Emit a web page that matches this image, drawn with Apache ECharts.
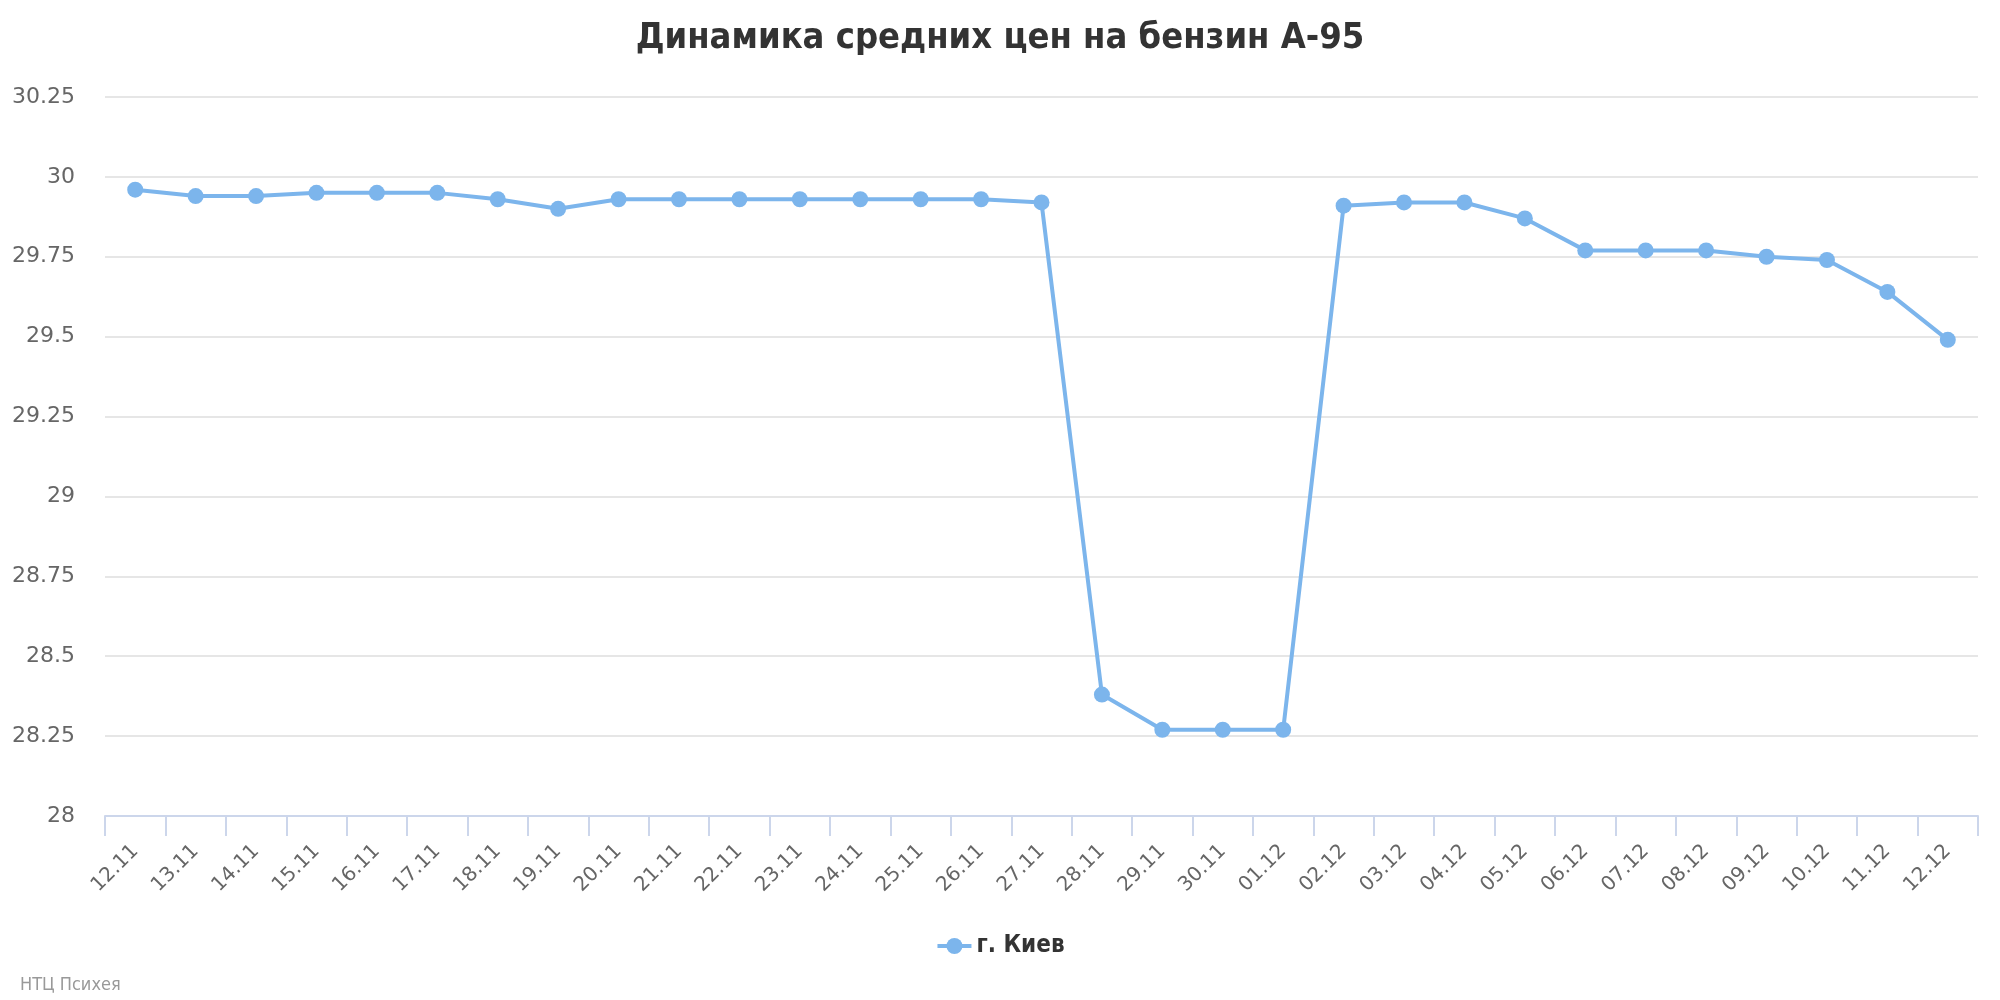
<!DOCTYPE html>
<html>
<head>
<meta charset="utf-8">
<script src="https://cdn.jsdelivr.net/npm/echarts@6/dist/echarts.min.js"></script>
<style>
  html, body { margin: 0; padding: 0; background: #fff; }
  #chart { width: 2000px; height: 1000px; }
</style>
</head>
<body>
<div id="chart"></div>
<script>
const dates = ['12.11', '13.11', '14.11', '15.11', '16.11', '17.11', '18.11', '19.11', '20.11', '21.11',
  '22.11', '23.11', '24.11', '25.11', '26.11', '27.11', '28.11', '29.11', '30.11', '01.12',
  '02.12', '03.12', '04.12', '05.12', '06.12', '07.12', '08.12', '09.12', '10.12', '11.12', '12.12'];
const kievPrices = [29.96, 29.94, 29.94, 29.95, 29.95, 29.95, 29.93, 29.90, 29.93, 29.93,
  29.93, 29.93, 29.93, 29.93, 29.93, 29.92, 28.38, 28.27, 28.27, 28.27,
  29.91, 29.92, 29.92, 29.87, 29.77, 29.77, 29.77, 29.75, 29.74, 29.64, 29.49];
const seriesName = 'г. Киев';
const yMin = 28, yMax = 30.25, yStep = 0.25;

const condensed = '"DejaVu Sans Condensed", "Liberation Sans Narrow", sans-serif';
const labelFont = '"DejaVu Sans", sans-serif';

let myChart = echarts.init(document.getElementById('chart'));
let option = {
  color: ['#7cb5ec'],
  animation: false,
  title: {
    text: 'Динамика средних цен на бензин А-95',
    left: 'center',
    top: 16,
    textStyle: { fontFamily: condensed, fontSize: 36, fontWeight: 'bold', color: '#333333' }
  },
  graphic: [{
    type: 'text',
    left: 20,
    top: 976,
    style: { text: 'НТЦ Психея', fontFamily: condensed, fontSize: 18, fill: '#999999' }
  }],
  legend: {
    data: [seriesName],
    left: 'center',
    top: 929,
    itemWidth: 34,
    itemHeight: 20,
    lineStyle: { width: 4 },
    textStyle: { fontFamily: condensed, fontSize: 24, fontWeight: 'bold', color: '#333333' }
  },
  grid: { left: 105, right: 22, top: 97, bottom: 184 },
  xAxis: {
    type: 'category',
    data: dates,
    boundaryGap: true,
    axisLine: { lineStyle: { color: '#ccd6eb', width: 2 } },
    axisTick: { show: true, length: 20, lineStyle: { color: '#ccd6eb', width: 2 } },
    axisLabel: { rotate: 45, interval: 0, margin: 32, fontFamily: labelFont, fontSize: 20, color: '#666666' }
  },
  yAxis: {
    type: 'value',
    min: yMin,
    max: yMax,
    interval: yStep,
    axisLine: { show: false },
    axisTick: { show: false },
    splitLine: { lineStyle: { color: '#e6e6e6', width: 2 } },
    axisLabel: { margin: 30, fontFamily: labelFont, fontSize: 22, color: '#666666' }
  },
  series: [{
    name: seriesName,
    type: 'line',
    data: kievPrices,
    symbol: 'circle',
    symbolSize: 16,
    lineStyle: { width: 4 },
    itemStyle: { color: '#7cb5ec' }
  }]
};
option && myChart.setOption(option);
</script>
</body>
</html>
